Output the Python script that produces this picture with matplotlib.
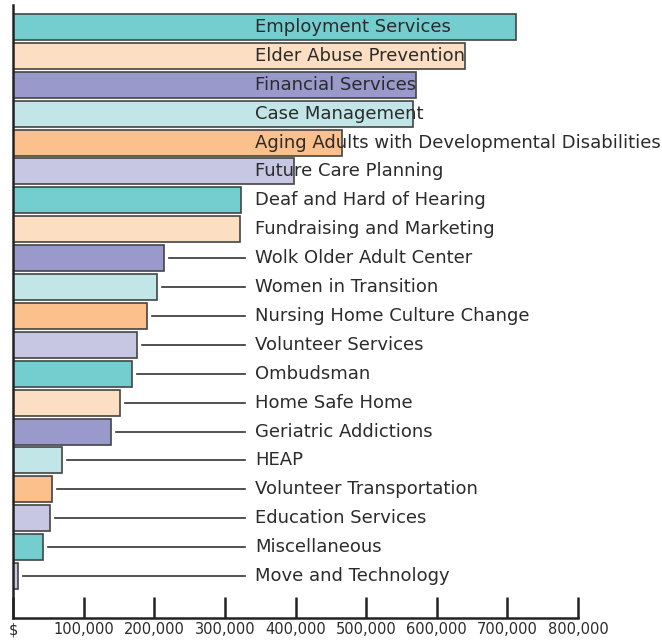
import matplotlib
matplotlib.use("Agg")
import matplotlib.pyplot as plt
from matplotlib import font_manager

programs = [
    "Employment Services", "Elder Abuse Prevention", "Financial Services",
    "Case Management", "Aging Adults with Developmental Disabilities",
    "Future Care Planning", "Deaf and Hard of Hearing", "Fundraising and Marketing",
    "Wolk Older Adult Center", "Women in Transition", "Nursing Home Culture Change",
    "Volunteer Services", "Ombudsman", "Home Safe Home", "Geriatric Addictions",
    "HEAP", "Volunteer Transportation", "Education Services", "Miscellaneous",
    "Move and Technology",
]
amounts = [712000, 640000, 571000, 566000, 466000, 398000, 323000, 321000,
           214000, 204000, 190000, 176000, 169000, 152000, 139000,
           69000, 55000, 52000, 42000, 7000]
tick_values = [0, 100000, 200000, 300000, 400000, 500000, 600000, 700000, 800000]
tick_labels = ["$", "100,000", "200,000", "300,000", "400,000", "500,000",
               "600,000", "700,000", "800,000"]

teal = "#74cecf"
peach = "#fcdec3"
purple = "#9a99cc"
cyan = "#c2e5e8"
orange = "#fbc08b"
lavender = "#c7c6e3"
bar_colors = [teal, peach, purple, cyan, orange, lavender,
              teal, peach, purple, cyan, orange, lavender,
              teal, peach, purple, cyan, orange, lavender,
              teal, lavender]

# font: pick a narrow one if it is there
names = {f.name for f in font_manager.fontManager.ttflist}
if "Liberation Sans Narrow" in names:
    fam = "Liberation Sans Narrow"
else:
    fam = "DejaVu Sans"

label_x = 343000
line_end = 329000
gap = 7000

fig = plt.figure(figsize=(6.62, 6.41), dpi=100)
ax = fig.add_axes([13 / 662, (641 - 618) / 641, (578 - 13) / 662, 613 / 641])

ypos = list(range(len(programs)))
ax.barh(ypos, amounts, height=0.9, color=bar_colors, edgecolor="#444444",
        linewidth=1.2, zorder=2)

for y, name, val in zip(ypos, programs, amounts):
    if val + gap < line_end - 20000:
        ax.plot([val + gap, line_end], [y, y], color="#333333", lw=1.2, zorder=1)
    ax.text(label_x, y, name, ha="left", va="center", fontsize=13,
            family=fam, color="#2b2b2b", zorder=3)

ax.set_xlim(0, 800000)
ax.set_ylim(19 + 1.45, -0.76)
ax.set_xticks(tick_values)
ax.set_xticklabels(tick_labels, family=fam, fontsize=10.5, color="#2b2b2b")
ax.set_yticks([])
ax.tick_params(axis="x", direction="in", length=15, width=1.8, color="#222222", pad=3)
for s in ["top", "right"]:
    ax.spines[s].set_visible(False)
ax.spines["left"].set_linewidth(1.8)
ax.spines["bottom"].set_linewidth(1.8)
ax.spines["left"].set_color("#222222")
ax.spines["bottom"].set_color("#222222")

fig.savefig("out.png", dpi=100)
